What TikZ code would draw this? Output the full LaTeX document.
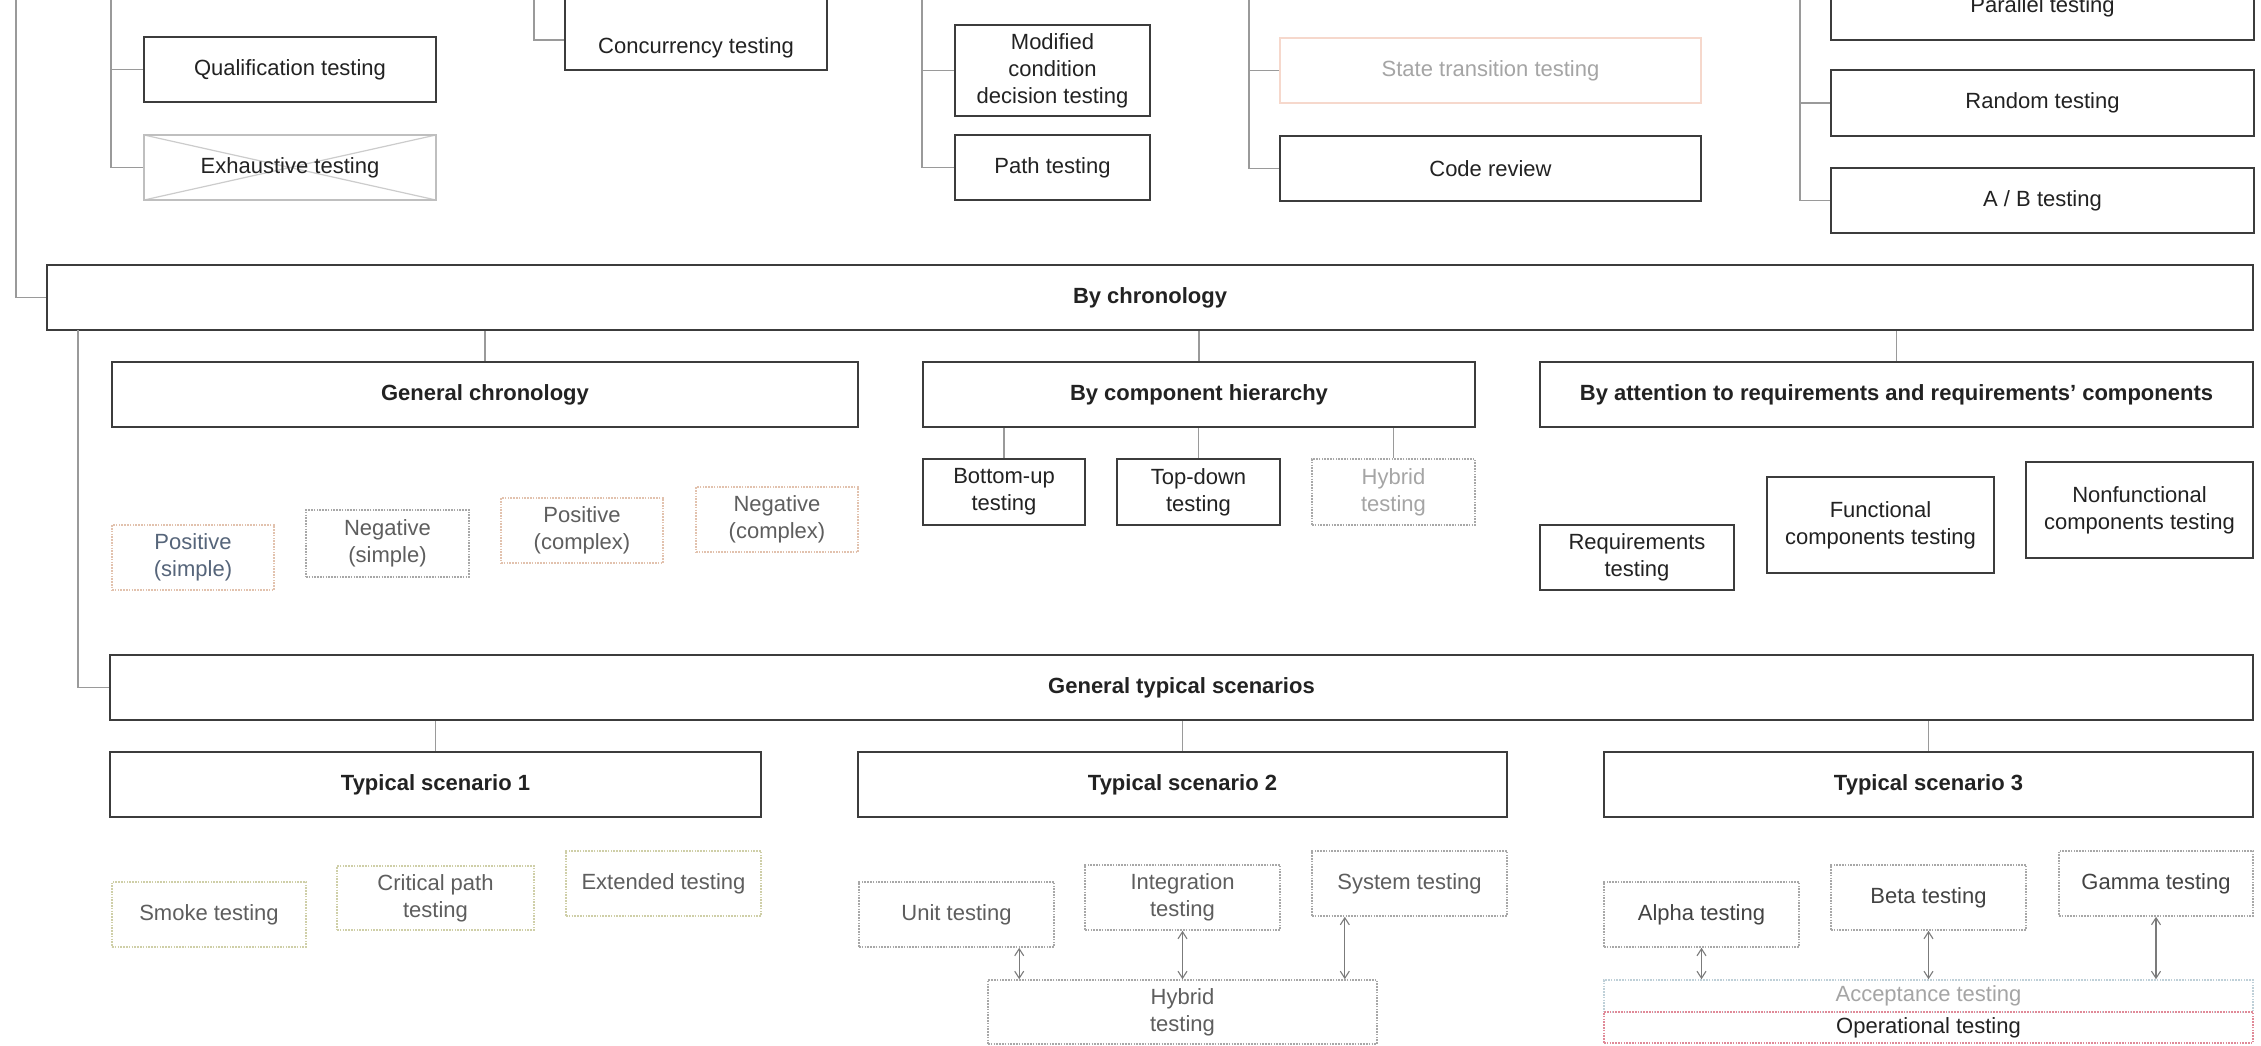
\documentclass[tikz,border=0pt]{standalone}
\usepackage{fontspec}
\setmainfont{Liberation Sans}
\usetikzlibrary{arrows.meta}

\definecolor{edge}{HTML}{3C3C3C}
\definecolor{ink}{HTML}{222222}
\definecolor{wire}{HTML}{9A9A9A}
\definecolor{dotgray}{HTML}{A8A8A8}
\definecolor{dottan}{HTML}{E2C2AE}
\definecolor{dotolive}{HTML}{CFCFA8}
\definecolor{dotblue}{HTML}{BFD0D8}
\definecolor{dotred}{HTML}{E08A98}
\definecolor{fadetext}{HTML}{A5A5A5}
\definecolor{midtext}{HTML}{5E5E5E}
\definecolor{bluetext}{HTML}{56657A}
\definecolor{statebord}{HTML}{F6D8CC}

% box given by its corners (x1,y1) (x2,y2), y measured downwards
\newcommand\mkbox[7]{%
  \pgfmathsetmacro\mkw{#4-(#2)}%
  \pgfmathsetmacro\mkh{#5-(#3)}%
  \pgfmathsetmacro\mkx{(#2+#4)/2}%
  \pgfmathsetmacro\mky{-(#3+#5)/2}%
  \node[#6, minimum width=\mkw pt, minimum height=\mkh pt] (#1) at (\mkx,\mky) {#7};}

\tikzset{
  base/.style={rectangle, font=\fontsize{22}{27}\selectfont, align=center,
    inner sep=2pt, text=ink},
  solidbox/.style={base, draw=edge, line width=2.4pt},
  headbox/.style={solidbox, font=\fontsize{22}{27}\selectfont\bfseries},
  dotbox/.style={base, draw=#1, line width=1.6pt, dash pattern=on 1.6pt off 1.2pt},
  dotbox/.default=dotgray,
  statebox/.style={base, draw=statebord, line width=1.3pt, text=fadetext},
  xbox/.style={base, draw=gray!50, line width=1.6pt,
    path picture={\draw[gray!40, line width=1.2pt]
      (path picture bounding box.north west) -- (path picture bounding box.south east)
      (path picture bounding box.south west) -- (path picture bounding box.north east);}},
  conn/.style={draw=wire, line width=1.3pt},
  darr/.style={draw=wire!80!black, line width=1.1pt,
    {Straight Barb[length=7pt,width=9pt]}-{Straight Barb[length=7pt,width=9pt]}},
}

\begin{document}
\begin{tikzpicture}[x=1pt,y=1pt]
\useasboundingbox (0,0) rectangle (2261,-1045);
\clip (0,0) rectangle (2261,-1045);
\fill[white] (0,0) rectangle (2261,-1045);

% ---- upper branches ----
\mkbox{qual}{144}{37}{436}{102}{solidbox}{Qualification testing}
\mkbox{exh}{144}{135}{436}{200}{xbox}{Exhaustive testing}
\mkbox{conc}{565}{-30}{827}{70}{solidbox}{\raisebox{-33pt}[0pt][0pt]{Concurrency testing}}
\mkbox{mod}{955}{25}{1150}{116}{solidbox}{Modified\\condition\\decision testing}
\mkbox{path}{955}{135}{1150}{200}{solidbox}{Path testing}
\mkbox{state}{1280}{38}{1701}{103}{statebox}{State transition testing}
\mkbox{code}{1280}{136}{1701}{201}{solidbox}{Code review}
\mkbox{par}{1831}{-50}{2254}{40}{solidbox}{\raisebox{-17pt}[0pt][0pt]{Parallel testing}}
\mkbox{rand}{1831}{70}{2254}{136}{solidbox}{Random testing}
\mkbox{ab}{1831}{168}{2254}{233}{solidbox}{A / B testing}

% ---- chronology ----
\mkbox{bychron}{47}{265}{2253}{330}{headbox}{By chronology}
\mkbox{gc}{112}{362}{858}{427}{headbox}{General chronology}
\mkbox{bch}{923}{362}{1475}{427}{headbox}{By component hierarchy}
\mkbox{ba}{1540}{362}{2253}{427}{headbox}{By attention to requirements and requirements’ components}

\mkbox{ps}{112}{525}{274}{590}{dotbox=dottan, text=bluetext}{Positive\\(simple)}
\mkbox{ns}{306}{510}{469}{577}{dotbox=dotgray, text=midtext}{Negative\\(simple)}
\mkbox{pc}{501}{498}{663}{563}{dotbox=dottan, text=midtext}{Positive\\(complex)}
\mkbox{nc}{696}{487}{858}{552}{dotbox=dottan, text=midtext}{Negative\\(complex)}

\mkbox{bu}{923}{459}{1085}{525}{solidbox}{Bottom-up\\testing}
\mkbox{td}{1117}{459}{1280}{525}{solidbox}{Top-down\\testing}
\mkbox{hy1}{1312}{459}{1475}{525}{dotbox=dotgray, text=fadetext}{Hybrid\\testing}

\mkbox{req}{1540}{525}{1734}{590}{solidbox}{Requirements\\testing}
\mkbox{func}{1767}{477}{1994}{573}{solidbox}{Functional\\components testing}
\mkbox{nonf}{2026}{462}{2253}{558}{solidbox}{Nonfunctional\\components testing}

% ---- typical scenarios ----
\mkbox{gts}{110}{655}{2253}{720}{headbox}{General typical scenarios}
\mkbox{ts1}{110}{752}{761}{817}{headbox}{Typical scenario 1}
\mkbox{ts2}{858}{752}{1507}{817}{headbox}{Typical scenario 2}
\mkbox{ts3}{1604}{752}{2253}{817}{headbox}{Typical scenario 3}

\mkbox{smoke}{112}{882}{306}{947}{dotbox=dotolive, text=midtext}{Smoke testing}
\mkbox{crit}{337}{866}{534}{930}{dotbox=dotolive, text=midtext}{Critical path\\testing}
\mkbox{ext}{566}{851}{761}{916}{dotbox=dotolive, text=midtext}{Extended testing}

\mkbox{unit}{859}{882}{1054}{947}{dotbox=dotgray, text=midtext}{Unit testing}
\mkbox{integ}{1085}{865}{1280}{930}{dotbox=dotgray, text=midtext}{Integration\\testing}
\mkbox{sys}{1312}{851}{1507}{916}{dotbox=dotgray, text=midtext}{System testing}
\mkbox{hy2}{988}{980}{1377}{1044}{dotbox=dotgray, text=midtext}{Hybrid\\testing}

\mkbox{alpha}{1604}{882}{1799}{947}{dotbox=dotgray, text=ink!85}{Alpha testing}
\mkbox{beta}{1831}{865}{2026}{930}{dotbox=dotgray, text=ink!85}{Beta testing}
\mkbox{gamma}{2059}{851}{2253}{916}{dotbox=dotgray, text=ink!85}{Gamma testing}
\mkbox{acc}{1604}{980}{2253}{1012}{dotbox=dotblue, text=fadetext}{Acceptance testing}
\mkbox{oper}{1604}{1012}{2253}{1043}{dotbox=dotred, text=ink}{Operational testing}

% ---- tree connectors ----
\coordinate (lt) at (16,20);
\coordinate (c1) at (111,20);
\coordinate (c2) at (534,20);
\coordinate (c2b) at (534,-40);
\coordinate (c3) at (922,20);
\coordinate (c4) at (1249,20);
\coordinate (c5) at (1800,60);
\coordinate (l2) at (78,-330);

\draw[conn] (lt) |- (bychron.west);
\draw[conn] (c1) |- (qual.west);
\draw[conn] (c1) |- (exh.west);
\draw[conn] (c2) -- (c2b) -- (c2b -| conc.west);
\draw[conn] (c3) |- (mod.west);
\draw[conn] (c3) |- (path.west);
\draw[conn] (c4) |- (state.west);
\draw[conn] (c4) |- (code.west);
\draw[conn] (c5) |- (par.west);
\draw[conn] (c5) |- (rand.west);
\draw[conn] (c5) |- (ab.west);

\draw[conn] (gc.north) -- (gc.north |- bychron.south);
\draw[conn] (bch.north) -- (bch.north |- bychron.south);
\draw[conn] (ba.north) -- (ba.north |- bychron.south);
\draw[conn] (bu.north) -- (bu.north |- bch.south);
\draw[conn] (td.north) -- (td.north |- bch.south);
\draw[conn] (hy1.north) -- (hy1.north |- bch.south);

\draw[conn] (l2) |- (gts.west);
\draw[conn] (ts1.north) -- (ts1.north |- gts.south);
\draw[conn] (ts2.north) -- (ts2.north |- gts.south);
\draw[conn] (ts3.north) -- (ts3.north |- gts.south);

% ---- two-way links into the combined stages ----
\coordinate (h1) at ([xshift=32pt]hy2.north west);
\coordinate (h3) at ([xshift=-33pt]hy2.north east);
\draw[darr] (unit.south -| h1) -- (h1);
\draw[darr] (integ.south) -- (integ.south |- hy2.north);
\draw[darr] (sys.south -| h3) -- (h3);
\draw[darr] (alpha.south) -- (alpha.south |- acc.north);
\draw[darr] (beta.south) -- (beta.south |- acc.north);
\draw[darr] (gamma.south) -- (gamma.south |- acc.north);
\end{tikzpicture}
\end{document}
